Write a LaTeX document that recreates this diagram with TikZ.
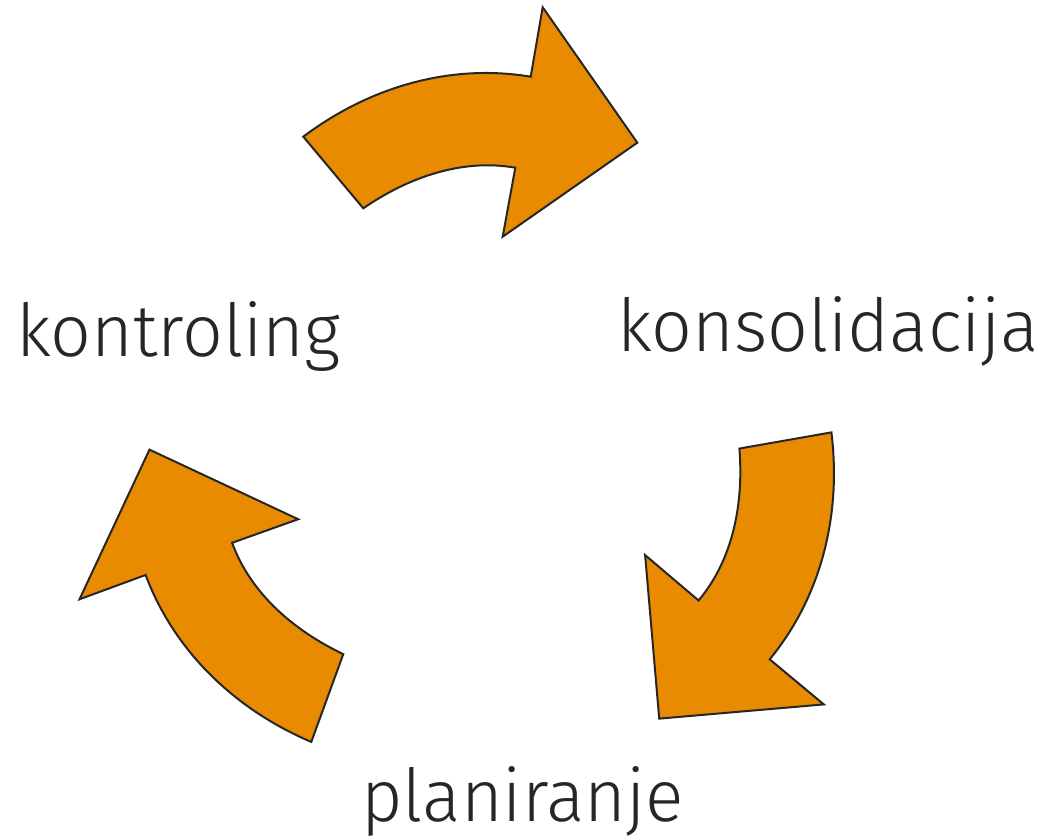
\documentclass[tikz,border=0pt]{standalone}
\usepackage{fontspec}
\setmainfont{Fira Sans Light}[FakeStretch=0.98]
\definecolor{arrowfill}{HTML}{E88B00}
\definecolor{inkdark}{HTML}{262626}
\tikzset{
  cyclearrow/.style={fill=arrowfill, draw=inkdark, line width=2pt, line join=miter},
  lbl/.style={inner sep=0pt, text=inkdark, font=\fontsize{73}{80}\selectfont}
}
\begin{document}
\begin{tikzpicture}[x=1pt,y=1pt]
\useasboundingbox (0,0) rectangle (1037,838);
\begin{scope}[shift={(482,401)}]
\foreach \r in {0,-120,-240}{
  \draw[cyclearrow, rotate=\r] (-178.7,300.3) .. controls (-113.2,349.7) and (-32.2,373.8) .. (48.7,360.3)
     -- (60.7,429.7) -- (155.3,294.3) -- (20.7,200.3) -- (33.3,269.3)
     .. controls (-20.2,278.7) and (-73.9,259.5) .. (-118.7,228.7) -- cycle;
}
\end{scope}
\node[lbl, anchor=base west] (kontroling) at (16,481) {kontroling};
\node[lbl, anchor=base west] (konsolidacija) at (617,486) {konsolidacija};
\node[lbl, anchor=base west] (planiranje) at (361,16.5) {planiranje};
\end{tikzpicture}
\end{document}
